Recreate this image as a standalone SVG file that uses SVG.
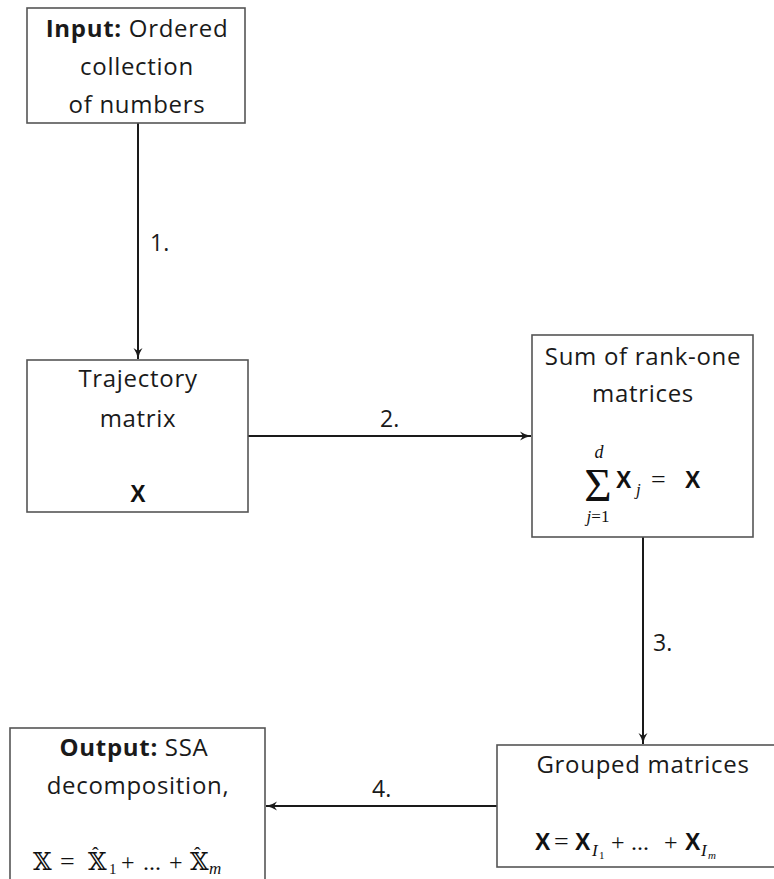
<svg xmlns="http://www.w3.org/2000/svg" width="774" height="879" viewBox="0 0 774 879">
<style>
.box{fill:#fff;stroke:#555;stroke-width:1.6}
.t{font-family:"Open Sans","Liberation Sans",sans-serif;font-size:24px;letter-spacing:0.7px;fill:#1a1a1a;text-anchor:middle}
.b{font-weight:bold}
.lbl{font-family:"Open Sans","Liberation Sans",sans-serif;font-size:23px;fill:#1a1a1a}
.mx{font-family:"Liberation Sans",sans-serif;font-weight:bold;font-size:23px;fill:#111}
.mr{font-family:"Liberation Serif",serif;fill:#111}
.mi{font-family:"Liberation Serif",serif;font-style:italic;fill:#111}
.bb{font-family:"DejaVu Serif","DejaVu Sans",serif;font-size:24px;fill:#111}
.edge{stroke:#1a1a1a;stroke-width:2;fill:none;marker-end:url(#ah)}
</style>
<defs>
<marker id="ah" viewBox="0 0 12 10" refX="11" refY="5" markerWidth="12" markerHeight="10" markerUnits="userSpaceOnUse" orient="auto">
<path d="M0,0.5 Q5,4 11,5 Q5,6 0,9.5 L3,5 Z" fill="#1a1a1a"/>
</marker>
</defs>
<rect width="774" height="879" fill="#fff"/>
<g id="connectors">
<line class="edge" x1="138" y1="123" x2="138" y2="359"/>
<line class="edge" x1="248" y1="436" x2="531" y2="436"/>
<line class="edge" x1="643" y1="537" x2="643" y2="744"/>
<line class="edge" x1="497" y1="806" x2="266" y2="806"/>
<text class="lbl" x="150" y="251">1.</text>
<text class="lbl" x="380" y="427">2.</text>
<text class="lbl" x="653" y="651">3.</text>
<text class="lbl" x="372" y="797">4.</text>
</g>
<g id="input">
<rect class="box" x="27" y="8" width="218" height="115"/>
<text class="t" x="137" y="37"><tspan class="b">Input:</tspan> Ordered</text>
<text class="t" x="137" y="75">collection</text>
<text class="t" x="137" y="113">of numbers</text>
</g>
<g id="trajectory">
<rect class="box" x="27" y="360" width="221" height="152"/>
<text class="t" x="138" y="387">Trajectory</text>
<text class="t" x="138" y="427">matrix</text>
<text class="mx" x="138" y="502" text-anchor="middle">X</text>
</g>
<g id="sum">
<rect class="box" x="532" y="335" width="221" height="202"/>
<text class="t" x="643" y="365">Sum of rank-one</text>
<text class="t" x="643" y="402">matrices</text>
<text class="mr" x="598" y="501" style="font-size:47px" text-anchor="middle">Σ</text>
<text class="mi" x="599" y="458" style="font-size:18px" text-anchor="middle">d</text>
<text class="mi" x="598" y="522" style="font-size:17px" text-anchor="middle">j<tspan font-style="normal">=1</tspan></text>
<text class="mx" x="616" y="488">X</text>
<text class="mi" x="636" y="495" style="font-size:17px">j</text>
<text class="mr" x="651" y="488" style="font-size:26px">=</text>
<text class="mx" x="685" y="488">X</text>
</g>
<g id="grouped">
<rect class="box" x="497" y="745" width="290" height="122"/>
<text class="t" x="643" y="773">Grouped matrices</text>
<text class="mx" x="535" y="850">X</text>
<text class="mr" x="554" y="850" style="font-size:26px">=</text>
<text class="mx" x="575" y="850">X</text>
<text class="mi" x="592" y="856" style="font-size:17px">I</text>
<text class="mr" x="599" y="859" style="font-size:11px">1</text>
<text class="mr" x="611" y="850" style="font-size:24px">+</text>
<text class="mr" x="631" y="850" style="font-size:24px">...</text>
<text class="mr" x="664" y="850" style="font-size:24px">+</text>
<text class="mx" x="685" y="850">X</text>
<text class="mi" x="701" y="856" style="font-size:17px">I</text>
<text class="mi" x="708" y="859" style="font-size:11px">m</text>
</g>
<g id="output">
<rect class="box" x="10" y="728" width="255" height="160"/>
<text class="t" x="134" y="756"><tspan class="b">Output:</tspan> SSA</text>
<text class="t" x="138" y="794">decomposition,</text>
<text class="bb" x="33" y="870">𝕏</text>
<text class="mr" x="60" y="870" style="font-size:26px">=</text>
<text class="bb" x="88" y="870">𝕏</text>
<text class="mr" x="92" y="862" style="font-size:20px">ˆ</text>
<text class="mr" x="109" y="874" style="font-size:15px">1</text>
<text class="mr" x="121" y="870" style="font-size:24px">+</text>
<text class="mr" x="143" y="870" style="font-size:24px">...</text>
<text class="mr" x="169" y="870" style="font-size:24px">+</text>
<text class="bb" x="190" y="870">𝕏</text>
<text class="mr" x="194" y="862" style="font-size:20px">ˆ</text>
<text class="mi" x="209" y="874" style="font-size:17px">m</text>
</g>
</svg>
